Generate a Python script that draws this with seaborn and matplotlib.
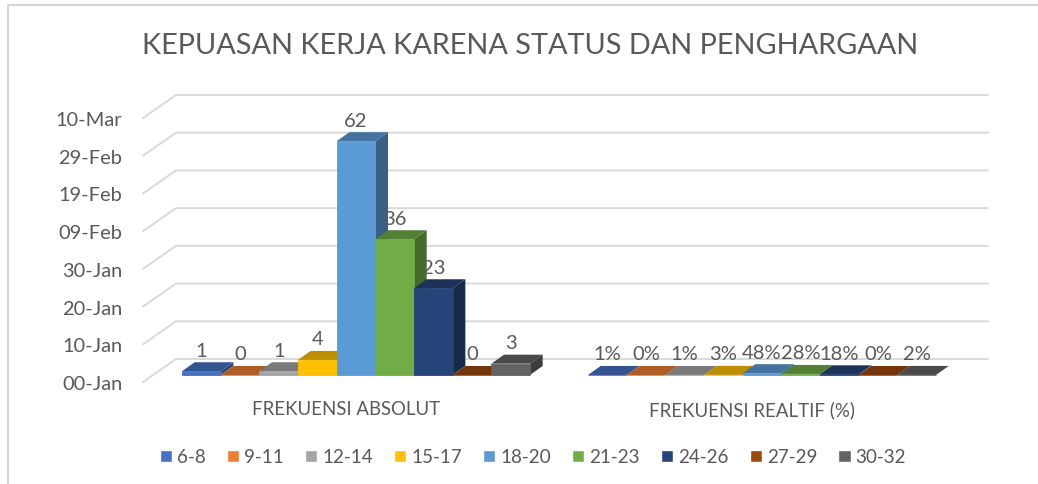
import numpy as np
import pandas as pd
import matplotlib
matplotlib.use('Agg')
import matplotlib.pyplot as plt
from matplotlib.colors import to_rgb
from matplotlib.lines import Line2D
from matplotlib.patches import Polygon
import seaborn as sns

groups = ['FREKUENSI ABSOLUT', 'FREKUENSI REALTIF (%)']
ranges = ['6-8', '9-11', '12-14', '15-17', '18-20', '21-23', '24-26', '27-29', '30-32']
absolute = [1, 0, 1, 4, 62, 36, 23, 0, 3]
relative = [0.01, 0, 0.01, 0.03, 0.48, 0.28, 0.18, 0, 0.02]
colors = ['#4472C4', '#ED7D31', '#A5A5A5', '#FFC000', '#5B9BD5',
          '#70AD47', '#264478', '#9E480E', '#636363']
y_ticks = [0, 10, 20, 30, 40, 50, 60, 70]
y_labels = ['00-Jan', '10-Jan', '20-Jan', '30-Jan', '09-Feb', '19-Feb', '29-Feb', '10-Mar']
title = 'KEPUASAN KERJA KARENA STATUS DAN PENGHARGAAN'

TEXT = '#595959'
GRID = '#D9D9D9'
W, H = 1038, 485

df = pd.DataFrame({
    'group': [groups[0]] * len(ranges) + [groups[1]] * len(ranges),
    'range': ranges * 2,
    'value': absolute + relative,
})

sns.set_theme(style='white')
plt.rcParams['font.family'] = ['Lato', 'DejaVu Sans']

fig = plt.figure(figsize=(W / 100, H / 100), dpi=100)
# axes is the front plane of the fake 3D box
left, right, top, bottom = 143, 955, 119, 383
ax = fig.add_axes([left / W, 1 - bottom / H, (right - left) / W, (bottom - top) / H])

sns.barplot(data=df, x='group', y='value', hue='range', hue_order=ranges,
            palette=colors, saturation=1, width=0.857, gap=0, errorbar=None, ax=ax)
ax.set_xlim(-0.5, 1.5)
ax.set_ylim(0, 70)
sns.despine(ax=ax, left=True, bottom=True)

px_x = 2 / (right - left)
px_y = 70 / (bottom - top)

# back wall: diagonal from each front tick, then the gridline
wall_dx, wall_dy = 33 * px_x, 23 * px_y
for v in y_ticks:
    ax.plot([-0.5, -0.5 + wall_dx, 1.5 + wall_dx], [v, v + wall_dy, v + wall_dy],
            color=GRID, lw=1.4, clip_on=False, zorder=0.5)

# bars stand a little behind the front plane
shift_x, shift_y = 10 * px_x, 7 * px_y
depth_x, depth_y = 12.7 * px_x, 9 * px_y

order = 2
for i, cont in enumerate(ax.containers):
    base = np.array(to_rgb(colors[i]))
    for bar in cont:
        bar.set_x(bar.get_x() + shift_x)
        bar.set_y(shift_y)
        bar.set_edgecolor(colors[i])
        bar.set_linewidth(0.6)
        x0, x1 = bar.get_x(), bar.get_x() + bar.get_width()
        y0, y1 = bar.get_y(), bar.get_y() + bar.get_height()
        side = Polygon([(x1, y0), (x1 + depth_x, y0 + depth_y), (x1 + depth_x, y1 + depth_y), (x1, y1)],
                       color=base * 0.62, lw=0, zorder=order)
        cap = Polygon([(x0, y1), (x0 + depth_x, y1 + depth_y), (x1 + depth_x, y1 + depth_y), (x1, y1)],
                      color=base * 0.74, lw=0, zorder=order + 1)
        ax.add_patch(side)
        ax.add_patch(cap)
        bar.set_zorder(order + 2)
        order += 3

# data labels
for i, cont in enumerate(ax.containers):
    bar_abs, bar_rel = cont[0], cont[1]
    for bar, txt in [(bar_abs, str(absolute[i])), (bar_rel, f'{relative[i]:.0%}')]:
        ax.annotate(txt, (bar.get_x() + bar.get_width() / 2, bar.get_y() + bar.get_height()),
                    xytext=(0, 21 * 0.72), textcoords='offset points', ha='center', va='center',
                    fontsize=14.5, color=TEXT, zorder=100, annotation_clip=False)

ax.set_xlabel('')
ax.set_ylabel('')
ax.set_yticks(y_ticks, y_labels)
ax.tick_params(axis='y', length=0, pad=15, labelsize=14.4, labelcolor=TEXT)
ax.tick_params(axis='x', length=0, pad=13, labelsize=13.4, labelcolor=TEXT)

sns.move_legend(ax, 'center', bbox_to_anchor=(533 / W, 1 - 458 / H), bbox_transform=fig.transFigure,
                ncol=9, frameon=False, title=None, fontsize=13.6, labelcolor=TEXT,
                handlelength=0.64, handleheight=0.64, handletextpad=0.27, columnspacing=1.12)

fig.text(530 / W, 1 - 46 / H, title, ha='center', va='center', fontsize=20.8, color=TEXT)

# chart frame, only top and left are in the screenshot
fig.add_artist(Line2D([1, 7.5 / W, 7.5 / W], [1 - 6 / H, 1 - 6 / H, 0], color='#D4D4D4', lw=1.5))

fig.savefig('out.png', dpi=100, facecolor='white')
